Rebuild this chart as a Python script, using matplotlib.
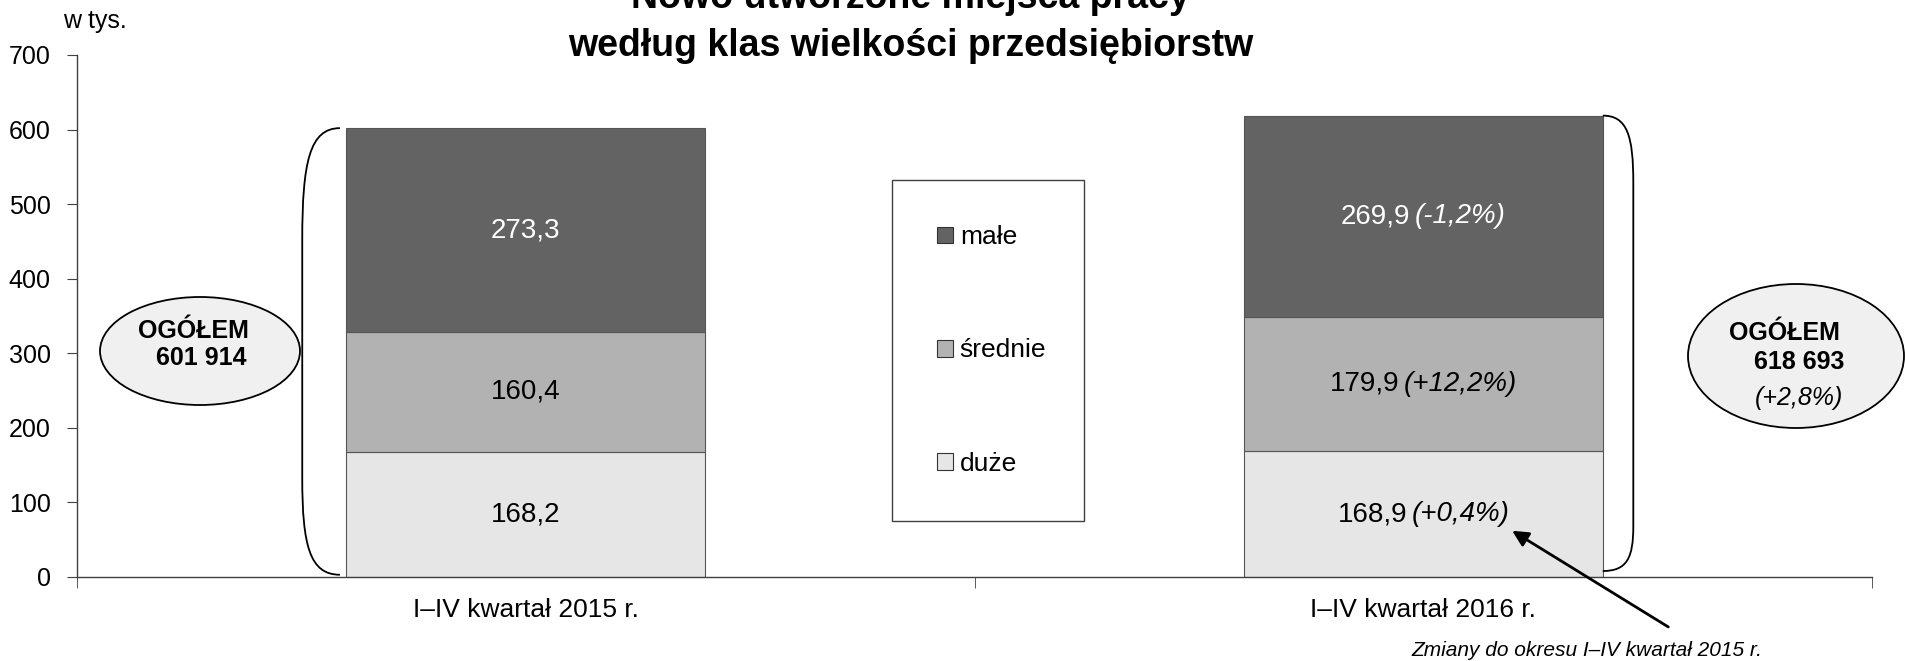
import matplotlib
matplotlib.use("Agg")
import matplotlib.pyplot as plt
from matplotlib.patches import Ellipse, Rectangle, PathPatch
from matplotlib.path import Path
from matplotlib.offsetbox import TextArea, HPacker, AnnotationBbox

plt.rcParams['font.family'] = ['Liberation Sans', 'DejaVu Sans']

# data (w tys.)
periods = ["I–IV kwartał 2015 r.", "I–IV kwartał 2016 r."]
series_names = ["duże", "średnie", "małe"]
duze = [168.2, 168.9]
srednie = [160.4, 179.9]
male = [273.3, 269.9]
chg_duze = [None, "(+0,4%)"]
chg_srednie = [None, "(+12,2%)"]
chg_male = [None, "(-1,2%)"]
totals_txt = ["601 914", "618 693"]
total_chg = "(+2,8%)"

colors = {"duże": "#e6e6e6", "średnie": "#b2b2b2", "małe": "#636363"}
txt_colors = {"duże": "black", "średnie": "black", "małe": "white"}

fig = plt.figure(figsize=(19.05, 6.61), dpi=100)
ax = fig.add_axes([0.0404, 0.1271, 0.9423, 0.7897])

x = [0, 1]
bottom = [0, 0]
series = {"duże": (duze, chg_duze), "średnie": (srednie, chg_srednie), "małe": (male, chg_male)}
for name in series_names:
    vals, chgs = series[name]
    ax.bar(x, vals, 0.4, bottom=bottom, color=colors[name],
           edgecolor="#555555", linewidth=0.8, zorder=2)
    for i in x:
        yc = bottom[i] + vals[i] / 2
        num = f"{vals[i]:.1f}".replace(".", ",")
        if chgs[i] is None:
            ax.text(i, yc, num, ha="center", va="center", fontsize=20,
                    color=txt_colors[name], zorder=3)
        else:
            box = HPacker(children=[
                TextArea(num, textprops=dict(fontsize=20, color=txt_colors[name])),
                TextArea(chgs[i], textprops=dict(fontsize=20, color=txt_colors[name], style="italic")),
            ], sep=3, align="baseline", pad=0)
            ab = AnnotationBbox(box, (i, yc), xycoords="data", frameon=False,
                                box_alignment=(0.5, 0.5), pad=0, zorder=3)
            ax.add_artist(ab)
    bottom = [b + v for b, v in zip(bottom, vals)]

totals = bottom

ax.set_xlim(-0.5, 1.5)
ax.set_ylim(0, 700)
ax.set_yticks(range(0, 701, 100))
ax.set_xticks(x)
ax.set_xticklabels(periods)
ax.set_xticks([-0.5, 0.5, 1.5], minor=True)
ax.tick_params(axis="x", which="major", length=0, labelsize=19, pad=15)
ax.tick_params(axis="x", which="minor", length=8, direction="out", color="#404040")
ax.tick_params(axis="y", length=7, direction="out", labelsize=18, pad=12, color="#404040")
for s in ["top", "right"]:
    ax.spines[s].set_visible(False)
for s in ["left", "bottom"]:
    ax.spines[s].set_color("#404040")
    ax.spines[s].set_linewidth(1.0)


# braces around stacked bars
def brace(x0, x1, ytop, ybot, htop, hbot):
    verts = [(x0, ytop), (x0 + 0.8 * (x1 - x0), ytop), (x1, ytop - 0.3 * htop), (x1, ytop - htop),
             (x1, ybot + hbot),
             (x1, ybot + 0.3 * hbot), (x0 + 0.8 * (x1 - x0), ybot), (x0, ybot)]
    codes = [Path.MOVETO, Path.CURVE4, Path.CURVE4, Path.CURVE4, Path.LINETO,
             Path.CURVE4, Path.CURVE4, Path.CURVE4]
    ax.add_patch(PathPatch(Path(verts, codes), fill=False, lw=1.3, color="black",
                           zorder=4, clip_on=False))


brace(-0.207, -0.249, totals[0], 3, 150, 130)
brace(1.2, 1.234, totals[1], 8, 90, 60)

# legend
handles = [Rectangle((0, 0), 1, 1, facecolor=colors[n], edgecolor="#333333", lw=0.8)
           for n in ["małe", "średnie", "duże"]]
leg = ax.legend(handles, ["małe", "średnie", "duże"], loc="center",
                bbox_to_anchor=(0.4682, 0.2103, 0.1008, 0.5189),
                bbox_transform=fig.transFigure, mode="expand", borderaxespad=0,
                fontsize=19, labelspacing=3.38, borderpad=1.72,
                handlelength=0.6, handleheight=0.6, handletextpad=0.25,
                fancybox=False, framealpha=1, edgecolor="#404040")
leg.get_frame().set_linewidth(1.0)

# ellipses with totals
e1 = Ellipse((200 / 1905, 1 - 351 / 661), 200 / 1905, 108 / 661, transform=fig.transFigure,
             facecolor="#f0f0f0", edgecolor="black", lw=1.3)
fig.add_artist(e1)
fig.text(193 / 1905, 1 - 331 / 661, "OGÓŁEM", ha="center", va="center",
         fontsize=18, fontweight="bold")
fig.text(201 / 1905, 1 - 358 / 661, totals_txt[0], ha="center", va="center",
         fontsize=18, fontweight="bold")

e2 = Ellipse((1796 / 1905, 1 - 356 / 661), 216 / 1905, 144 / 661, transform=fig.transFigure,
             facecolor="#f0f0f0", edgecolor="black", lw=1.3)
fig.add_artist(e2)
fig.text(1784 / 1905, 1 - 333 / 661, "OGÓŁEM", ha="center", va="center",
         fontsize=18, fontweight="bold")
fig.text(1799 / 1905, 1 - 362 / 661, totals_txt[1], ha="center", va="center",
         fontsize=18, fontweight="bold")
fig.text(1799 / 1905, 1 - 398 / 661, total_chg, ha="center", va="center",
         fontsize=18, style="italic")

# arrow and note
ax.annotate("", xy=(1.099, 62), xytext=(1.273, -67), xycoords="data",
            annotation_clip=False,
            arrowprops=dict(arrowstyle="-|>", lw=2, color="black", mutation_scale=24,
                            shrinkA=0, shrinkB=0))
fig.text(1587 / 1905, 1 - 650 / 661, "Zmiany do okresu I–IV kwartał 2015 r.",
         ha="center", va="center", fontsize=15, style="italic")

# titles
fig.text(0.478, 1 + 2 / 661, "Nowo utworzone miejsca pracy",
         ha="center", va="center", fontsize=27, fontweight="bold")
fig.text(0.478, 1 - 46 / 661, "według klas wielkości przedsiębiorstw",
         ha="center", va="center", fontsize=27, fontweight="bold")
fig.text(63 / 1905, 1 - 21 / 661, "w tys.", ha="left", va="center", fontsize=18)

fig.savefig("out.png", dpi=100)
